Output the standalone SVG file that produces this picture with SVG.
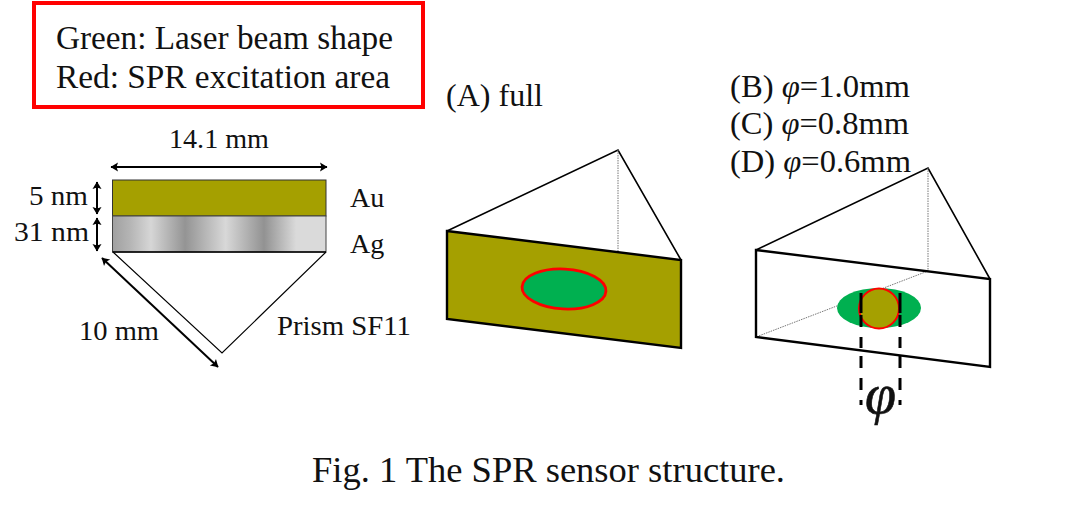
<svg xmlns="http://www.w3.org/2000/svg" width="1084" height="513" viewBox="0 0 1084 513">
<style>
text{font-family:"Liberation Serif","Times New Roman",serif;fill:#111}
.s{font-size:33px}
.p{font-size:32px}
.m{font-size:28px}
.l{fill:none;stroke:#000;stroke-width:1.600}
.th{fill:none;stroke:#000;stroke-width:2.400}
.h{fill:none;stroke:#777;stroke-width:1;stroke-dasharray:1.5 1}
.a{fill:none;stroke:#000;stroke-width:2;marker-start:url(#ah);marker-end:url(#ah)}
.d{fill:none;stroke:#000;stroke-width:3;stroke-dasharray:20 2 12 10 11 8 12 10 12 10 5}
.i{font-style:italic}
</style>
<defs>
<marker id="ah" viewBox="0 0 10 10" refX="9" refY="5" markerWidth="5" markerHeight="5" orient="auto-start-reverse"><path d="M2 .5L9.500 5L2 9.500L3.500 5Z" fill="#000"/></marker>
<linearGradient id="ag" x1="0" x2="1" y1="0" y2="0">
<stop offset="0" stop-color="#a0a0a0"/><stop offset=".08" stop-color="#b4b4b4"/><stop offset=".18" stop-color="#d6d6d6"/><stop offset=".34" stop-color="#949494"/><stop offset=".53" stop-color="#d8d8d8"/><stop offset=".71" stop-color="#929292"/><stop offset=".86" stop-color="#dadada"/><stop offset="1" stop-color="#dadada"/>
</linearGradient>
</defs>
<g id="legend">
<rect x="34" y="3" width="389" height="104" fill="#fff" stroke="#f00" stroke-width="4"/>
<text class="s" x="56" y="49" textLength="337" lengthAdjust="spacingAndGlyphs">Green: Laser beam shape</text>
<text class="s" x="56" y="88" textLength="334" lengthAdjust="spacingAndGlyphs">Red: SPR excitation area</text>
</g>
<g id="layers">
<rect x="112.500" y="180" width="213.500" height="36" fill="#a5a000" stroke="#333" stroke-width="1"/>
<rect x="112.500" y="216" width="213.500" height="36" fill="url(#ag)" stroke="#444" stroke-width="1"/>
<path d="M112.500 252H326" class="l"/>
<path d="M113 252L222 353L326 252" fill="none" stroke="#000" stroke-width="1.200"/>
<text class="m" x="169" y="148" textLength="100" lengthAdjust="spacingAndGlyphs">14.1 mm</text>
<text class="m" x="29" y="205" textLength="59" lengthAdjust="spacingAndGlyphs">5 nm</text>
<text class="m" x="14" y="241" textLength="75" lengthAdjust="spacingAndGlyphs">31 nm</text>
<text class="m" x="350" y="207">Au</text>
<text class="m" x="350" y="253">Ag</text>
<text class="m" x="79" y="340" textLength="80" lengthAdjust="spacingAndGlyphs">10 mm</text>
<text class="m" x="277" y="335" textLength="134" lengthAdjust="spacingAndGlyphs">Prism SF11</text>
</g>
<g id="connectors">
<path class="a" d="M111 167H327"/>
<path class="a" d="M97 182V214"/>
<path class="a" d="M97 218V251"/>
<path class="a" d="M102 258L218 367"/>
</g>
<g id="prism-a">
<text class="p" x="446" y="106" textLength="97" lengthAdjust="spacingAndGlyphs">(A) full</text>
<path d="M447 231L681 260V348L447 319Z" fill="#a5a000"/>
<path class="l" d="M447 231L618 150L681 260"/>
<path class="h" d="M618 150V253"/>
<path class="th" d="M447 231L681 260V348L447 319Z"/>
<ellipse cx="564" cy="289" rx="42" ry="20" transform="rotate(3 564 289)" fill="#00b050" stroke="#f00" stroke-width="2.800"/>
</g>
<g id="labels-bcd">
<text class="p" x="730" y="97" textLength="180" lengthAdjust="spacingAndGlyphs">(B) <tspan class="i">φ</tspan>=1.0mm</text>
<text class="p" x="730" y="134" textLength="179" lengthAdjust="spacingAndGlyphs">(C) <tspan class="i">φ</tspan>=0.8mm</text>
<text class="p" x="730" y="172" textLength="181" lengthAdjust="spacingAndGlyphs">(D) <tspan class="i">φ</tspan>=0.6mm</text>
</g>
<g id="prism-b">
<path class="l" d="M756 250L928 168L990 279"/>
<path class="h" d="M928 168V271L756 337"/>
<ellipse cx="879" cy="308" rx="42" ry="20" fill="#00b050"/>
<circle cx="879" cy="308.500" r="20" fill="#a5a000" stroke="#f00" stroke-width="2"/>
<path class="th" d="M756 250L990 279V367L756 337Z"/>
<path class="d" d="M861 293V405"/>
<path class="d" d="M900 293V405"/>
<text x="865" y="413" font-size="56" class="i" stroke="#111" stroke-width=".6">φ</text>
</g>
<g id="caption">
<text x="312" y="482" font-size="36.500" textLength="473" lengthAdjust="spacingAndGlyphs">Fig. 1 The SPR sensor structure.</text>
</g>
</svg>
